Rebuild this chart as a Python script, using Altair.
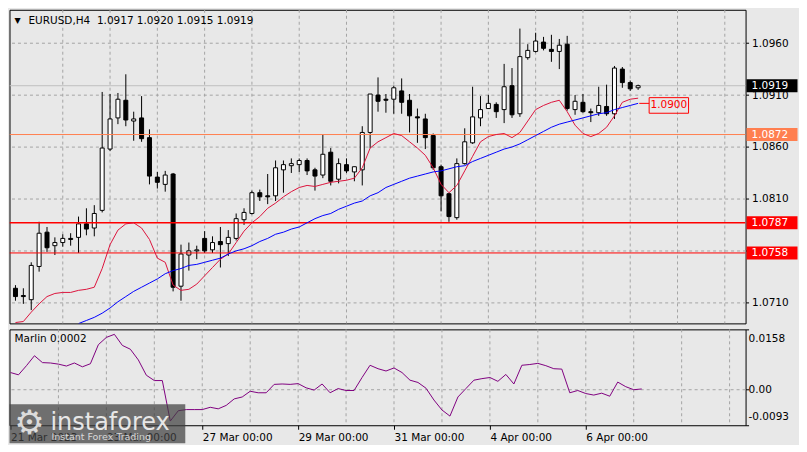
import altair as alt
import pandas as pd

# ---------------- values ----------------
bar_index = list(range(80))
opens = [1.0724, 1.0717, 1.0713, 1.0745, 1.0778, 1.0765, 1.0768, 1.0772, 1.0773, 1.0786,
         1.0782, 1.0799, 1.0858, 1.0888, 1.0905, 1.0885, 1.0888, 1.0869, 1.0831, 1.0824,
         1.0834, 1.0726, 1.0756, 1.0760, 1.0772, 1.0761, 1.0769, 1.0767, 1.0772, 1.0790,
         1.0796, 1.0816, 1.0813, 1.0813, 1.0838, 1.0842, 1.0843, 1.0847, 1.0838, 1.0833,
         1.0855, 1.0829, 1.0843, 1.0836, 1.0838, 1.0874, 1.0910, 1.0906, 1.0906, 1.0914,
         1.0905, 1.0889, 1.0887, 1.0871, 1.0841, 1.0815, 1.0792, 1.0844, 1.0864, 1.0888,
         1.0897, 1.0901, 1.0896, 1.0919, 1.0892, 1.0946, 1.0952, 1.0961, 1.0954, 1.0952,
         1.0959, 1.0896, 1.0903, 1.0894, 1.0893, 1.0899, 1.0892, 1.0935, 1.0922, 1.0917]
highs = [1.0727, 1.0724, 1.0749, 1.0788, 1.0783, 1.0773, 1.0776, 1.0777, 1.0793, 1.0801,
         1.0804, 1.0913, 1.0911, 1.0912, 1.0930, 1.0894, 1.0909, 1.0877, 1.0836, 1.0837,
         1.0835, 1.0766, 1.0768, 1.0765, 1.0779, 1.0774, 1.0783, 1.0780, 1.0796, 1.0801,
         1.0818, 1.0819, 1.0834, 1.0847, 1.0847, 1.0849, 1.0849, 1.0849, 1.0840, 1.0872,
         1.0859, 1.0849, 1.0849, 1.0841, 1.0880, 1.0911, 1.0927, 1.0911, 1.0919, 1.0926,
         1.0911, 1.0897, 1.0892, 1.0873, 1.0843, 1.0816, 1.0849, 1.0878, 1.0918, 1.0909,
         1.0910, 1.0903, 1.0940, 1.0936, 1.0974, 1.0959, 1.0970, 1.0966, 1.0968, 1.0964,
         1.0967, 1.0910, 1.0911, 1.0897, 1.0918, 1.0920, 1.0938, 1.0937, 1.0924, 1.0920]
lows = [1.0712, 1.0709, 1.0703, 1.0740, 1.0759, 1.0756, 1.0764, 1.0765, 1.0758, 1.0775,
        1.0774, 1.0797, 1.0856, 1.0882, 1.0880, 1.0866, 1.0865, 1.0824, 1.0820, 1.0817,
        1.0721, 1.0712, 1.0741, 1.0752, 1.0758, 1.0758, 1.0744, 1.0755, 1.0770, 1.0785,
        1.0795, 1.0808, 1.0805, 1.0808, 1.0816, 1.0835, 1.0836, 1.0833, 1.0818, 1.0830,
        1.0823, 1.0825, 1.0835, 1.0827, 1.0823, 1.0859, 1.0894, 1.0893, 1.0892, 1.0892,
        1.0874, 1.0864, 1.0858, 1.0838, 1.0798, 1.0788, 1.0790, 1.0843, 1.0863, 1.0880,
        1.0897, 1.0888, 1.0883, 1.0888, 1.0889, 1.0944, 1.0951, 1.0953, 1.0942, 1.0935,
        1.0895, 1.0891, 1.0893, 1.0884, 1.0890, 1.0890, 1.0887, 1.0917, 1.0914, 1.0915]
closes = [1.0716, 1.0716, 1.0746, 1.0777, 1.0763, 1.0768, 1.0772, 1.0771, 1.0786, 1.0781,
          1.0796, 1.0859, 1.0887, 1.0906, 1.0886, 1.0887, 1.0868, 1.0832, 1.0826, 1.0833,
          1.0725, 1.0757, 1.0760, 1.0761, 1.0760, 1.0768, 1.0766, 1.0773, 1.0791, 1.0797,
          1.0816, 1.0812, 1.0812, 1.0840, 1.0843, 1.0844, 1.0847, 1.0837, 1.0832, 1.0853,
          1.0827, 1.0844, 1.0837, 1.0841, 1.0874, 1.0911, 1.0904, 1.0905, 1.0917, 1.0903,
          1.0890, 1.0888, 1.0869, 1.0840, 1.0813, 1.0793, 1.0844, 1.0865, 1.0889, 1.0896,
          1.0902, 1.0894, 1.0918, 1.0891, 1.0947, 1.0953, 1.0962, 1.0955, 1.0952, 1.0958,
          1.0897, 1.0904, 1.0894, 1.0893, 1.0900, 1.0892, 1.0936, 1.0922, 1.0916, 1.0919]

fast_ma = [1.0691, 1.0692, 1.0701, 1.0709, 1.0716, 1.0719, 1.0720, 1.0720, 1.0722, 1.0723,
           1.0725, 1.0743, 1.0766, 1.0780, 1.0786, 1.0787, 1.0782, 1.0771, 1.0753, 1.0749,
           1.0727, 1.0722, 1.0723, 1.0728, 1.0736, 1.0744, 1.0752, 1.0757, 1.0768, 1.0779,
           1.0787, 1.0793, 1.0801, 1.0806, 1.0812, 1.0817, 1.0821, 1.0823, 1.0822, 1.0824,
           1.0826, 1.0827, 1.0828, 1.0830, 1.0840, 1.0859, 1.0865, 1.0869, 1.0873, 1.0871,
           1.0865, 1.0859, 1.0852, 1.0840, 1.0824, 1.0816, 1.0823, 1.0837, 1.0851, 1.0865,
           1.0870, 1.0872, 1.0873, 1.0869, 1.0874, 1.0885, 1.0896, 1.0900, 1.0903, 1.0905,
           1.0894, 1.0881, 1.0873, 1.0870, 1.0873, 1.0879, 1.0890, 1.0903, 1.0906, 1.0907]

slow_ma_first_bar = 8
slow_ma = [1.0690, 1.0693, 1.0696, 1.0700, 1.0705, 1.0711, 1.0716, 1.0721, 1.0725, 1.0729,
           1.0733, 1.0738, 1.0741, 1.0743, 1.0746, 1.0747, 1.0749, 1.0751, 1.0753, 1.0757,
           1.0760, 1.0762, 1.0765, 1.0769, 1.0772, 1.0776, 1.0778, 1.0781, 1.0783, 1.0787,
           1.0791, 1.0794, 1.0796, 1.0800, 1.0803, 1.0806, 1.0808, 1.0813, 1.0816, 1.0821,
           1.0824, 1.0827, 1.0830, 1.0832, 1.0834, 1.0836, 1.0837, 1.0839, 1.0841, 1.0842,
           1.0846, 1.0849, 1.0852, 1.0855, 1.0858, 1.0860, 1.0863, 1.0867, 1.0871, 1.0875,
           1.0879, 1.0882, 1.0884, 1.0886, 1.0888, 1.0890, 1.0892, 1.0893, 1.0896, 1.0898,
           1.0900, 1.0902]

marlin = [0.0045, 0.0039, 0.0063, 0.0089, 0.0071, 0.0070, 0.0067, 0.0062, 0.0070, 0.0060,
          0.0068, 0.0118, 0.0137, 0.0145, 0.0116, 0.0106, 0.0078, 0.0038, 0.0024, 0.0024,
          -0.0082, -0.0055, -0.0052, -0.0052, -0.0052, -0.0046, -0.0050, -0.0041, -0.0024, -0.0019,
          -0.0004, -0.0008, -0.0008, 0.0014, 0.0015, 0.0014, 0.0016, 0.0005, -0.0001, 0.0015,
          -0.0008, 0.0003, -0.0002, -0.0002, 0.0032, 0.0064, 0.0055, 0.0049, 0.0057, 0.0045,
          0.0025, 0.0019, 0.0004, -0.0027, -0.0053, -0.0069, -0.0019, 0.0003, 0.0025, 0.0029,
          0.0032, 0.0022, 0.0040, 0.0015, 0.0064, 0.0066, 0.0069, 0.0063, 0.0055, 0.0054,
          -0.0008, -0.0002, -0.0010, -0.0014, -0.0009, -0.0017, 0.0020, 0.0008, 0.0000, 0.0002]

date_ticks = [0, 12, 24, 36, 48, 60, 72]
date_labels = ["21 Mar 2023", "23 Mar 00:00", "27 Mar 00:00", "29 Mar 00:00",
               "31 Mar 00:00", "4 Apr 00:00", "6 Apr 00:00"]
price_ticks = [1.0710, 1.0760, 1.0810, 1.0860, 1.0910, 1.0960]
level_values = [1.0919, 1.0872, 1.0787, 1.0758]
annotation_value = 1.0900
marlin_ticks = [-0.0093, 0.0, 0.0158]
marlin_tick_labels = ["-0.0093", "0.00", "0.0158"]
header_text = "EURUSD,H4\u00a0\u00a01.0917 1.0920 1.0915 1.0919"
indicator_text = "Marlin 0.0002"

assert len(opens) == len(highs) == len(lows) == len(closes) == len(fast_ma) == len(marlin) == 80
assert len(slow_ma) == 80 - slow_ma_first_bar

# ---------------- layout / styles ----------------
W, H1, H2 = 737, 314, 96
FONT = "DejaVu Sans"
FS = 10.5
BG = "#e8e8e8"
GRID = "#a4a4a4"
X_DOM = [-0.125, 92.0]
Y_DOM = [1.06902, 1.09921]
M_DOM = [-0.0093, 0.0158]
BOX_HALF = 6.5 * (Y_DOM[1] - Y_DOM[0]) / H1
level_line_colors = ["#c0c0c0", "#ff7f50", "#ff0000", "#ff0000"]
level_line_widths = [1, 1, 1.5, 1]
level_box_colors = ["#000000", "#ff7f50", "#ff0000", "#ff0000"]

xscale = alt.Scale(domain=X_DOM, nice=False, zero=False)
yscale = alt.Scale(domain=Y_DOM, nice=False, zero=False)
mscale = alt.Scale(domain=M_DOM, nice=False, zero=False)

price_axis = alt.Axis(
    orient="right", values=price_ticks,
    labelExpr="abs(datum.value - 1.076) < 0.00001 ? '' : format(datum.value, '.4f')",
    grid=True, gridDash=[3, 3], gridColor=GRID, domain=False,
    ticks=True, tickSize=3, tickColor="black", labelPadding=3,
    labelFont=FONT, labelFontSize=FS, labelColor="black", title=None)

labels_js = "[" + ",".join(f"'{s}'" for s in date_labels) + "]"
ticks_js = "[" + ",".join(str(t) for t in date_ticks) + "]"
date_axis = alt.Axis(
    values=date_ticks, labelExpr=f"{labels_js}[indexof({ticks_js}, datum.value)]",
    labelAlign="left", labelBaseline="top", labelPadding=3, tickSize=4,
    tickColor="black", domain=False, grid=False, labelFont=FONT, labelFontSize=FS,
    labelColor="black", labelFlush=False, labelOverlap=False, title=None)

marlin_axis = alt.Axis(orient="right", values=marlin_ticks, labels=False, ticks=True,
                       tickSize=3, tickColor="black", domain=False, grid=False, title=None)


def XM(field):
    return alt.X(f"{field}:Q", scale=xscale, axis=None, title=None)


def YM(field):
    return alt.Y(f"{field}:Q", scale=yscale, axis=price_axis, title=None)


def XI(field):
    return alt.X(f"{field}:Q", scale=xscale, axis=date_axis, title=None)


def YI(field):
    return alt.Y(f"{field}:Q", scale=mscale, axis=marlin_axis, title=None)


one = pd.DataFrame({"k": [0]})
candles = pd.DataFrame({"i": bar_index, "open": opens, "high": highs,
                        "low": lows, "close": closes})
fast_df = pd.DataFrame({"i": bar_index, "ma": fast_ma})
slow_df = pd.DataFrame({"i": bar_index[slow_ma_first_bar:], "ma": slow_ma})
grid_df = pd.DataFrame({"g": list(range(6, 92, 6))})

# ---------------- main price panel ----------------
vgrid = alt.Chart(grid_df).mark_rule(color=GRID, strokeDash=[3, 3], strokeWidth=1).encode(x=XM("g"))

level_layers = []
box_layers = []
for v, lc, lw, bc in zip(level_values, level_line_colors, level_line_widths, level_box_colors):
    d = pd.DataFrame({"value": [v]})
    level_layers.append(
        alt.Chart(d).mark_rule(color=lc, strokeWidth=lw, clip=True).encode(y=YM("value")))
    box_layers.append(
        alt.Chart(d).transform_calculate(
            top=f"datum.value + {BOX_HALF}", bot=f"datum.value - {BOX_HALF}"
        ).mark_rect(fill=bc).encode(
            x=alt.value(W + 1), x2=alt.value(W + 52), y=YM("top"), y2="bot"))
    box_layers.append(
        alt.Chart(d).transform_calculate(label="format(datum.value, '.4f')").mark_text(
            align="left", baseline="middle", color="white", font=FONT, fontSize=FS
        ).encode(x=alt.value(W + 6), y=YM("value"), text="label:N"))

wicks = alt.Chart(candles).mark_rule(color="black", strokeWidth=1, clip=True).encode(
    x=XM("i"), y=YM("low"), y2="high")
bodies = alt.Chart(candles).mark_bar(size=4, stroke="black", strokeWidth=1, clip=True).encode(
    x=XM("i"), y=YM("open"), y2="close",
    fill=alt.condition("datum.close >= datum.open", alt.value("white"), alt.value("black")))
fast_line = alt.Chart(fast_df).mark_line(color="#dc143c", strokeWidth=1, clip=True).encode(
    x=XM("i"), y=YM("ma"))
slow_line = alt.Chart(slow_df).mark_line(color="#0000ff", strokeWidth=1, clip=True).encode(
    x=XM("i"), y=YM("ma"))

ann = pd.DataFrame({"value": [annotation_value], "end": [slow_ma[-1]]})
ann_box = alt.Chart(ann).transform_calculate(
    x0="80.4", x1="85.4", top=f"datum.value + {BOX_HALF * 1.2}", bot=f"datum.value - {BOX_HALF * 1.2}"
).mark_rect(stroke="#ff0000", strokeWidth=1, fillOpacity=0).encode(
    x=XM("x0"), x2="x1", y=YM("top"), y2="bot")
ann_link = alt.Chart(ann).transform_calculate(x0="79.15", x1="80.4").mark_rule(
    color="#ff0000", strokeWidth=1).encode(x=XM("x0"), x2="x1", y=YM("end"))
ann_text = alt.Chart(ann).transform_calculate(
    xc="82.9", label="format(datum.value, '.4f')").mark_text(
    color="#ff0000", font=FONT, fontSize=FS, align="center", baseline="middle").encode(
    x=XM("xc"), y=YM("value"), text="label:N")

tri = alt.Chart(one).mark_text(font=FONT, fontSize=8, color="black", align="left",
                               baseline="middle").encode(
    x=alt.value(5), y=alt.value(11), text=alt.value("\u25bc"))
header = alt.Chart(one).mark_text(font=FONT, fontSize=FS, color="black", align="left",
                                  baseline="middle").encode(
    x=alt.value(19), y=alt.value(11), text=alt.value(header_text))

main = alt.layer(
    vgrid, *level_layers[:1], wicks, bodies, *level_layers[1:], fast_line, slow_line,
    *box_layers, ann_link, ann_box, ann_text, tri, header
).properties(width=W, height=H1)

# ---------------- indicator panel ----------------
vgrid2 = alt.Chart(grid_df).mark_rule(color=GRID, strokeDash=[3, 3], strokeWidth=1).encode(x=XI("g"))
zero_line = alt.Chart(pd.DataFrame({"z": [0.0]})).mark_rule(
    color=GRID, strokeDash=[3, 3], strokeWidth=1).encode(y=YI("z"))
marlin_df = pd.DataFrame({"i": bar_index, "m": marlin})
marlin_line = alt.Chart(marlin_df).mark_line(color="#800080", strokeWidth=1, clip=True).encode(
    x=XI("i"), y=YI("m"))

m_label_layers = []
for val, lab in zip(marlin_ticks, marlin_tick_labels):
    if val == M_DOM[1]:
        ypos = alt.value(10)
    elif val == M_DOM[0]:
        ypos = alt.value(H2 - 8)
    else:
        ypos = YI("v")
    m_label_layers.append(
        alt.Chart(pd.DataFrame({"v": [val], "t": [lab]})).mark_text(
            font=FONT, fontSize=FS, color="black", align="left", baseline="middle"
        ).encode(x=alt.value(W + 3), y=ypos, text="t:N"))

ind_title = alt.Chart(one).mark_text(font=FONT, fontSize=FS, color="black", align="left",
                                     baseline="middle").encode(
    x=alt.value(5), y=alt.value(10), text=alt.value(indicator_text))

wm_box = alt.Chart(one).mark_rect(fill="#404040", opacity=0.72).encode(
    x=alt.value(0), x2=alt.value(176), y=alt.value(H2 - 21), y2=alt.value(H2 + 18))
wm_gear = alt.Chart(one).mark_text(font=FONT, fontSize=34, color="#f0f0f0", align="center",
                                   baseline="middle", opacity=0.85).encode(
    x=alt.value(20), y=alt.value(H2 - 1), text=alt.value("\u2699"))
wm_name = alt.Chart(one).mark_text(font=FONT, fontSize=24, color="#f4f4f4", align="left",
                                   baseline="middle", opacity=0.9).encode(
    x=alt.value(41), y=alt.value(H2 - 2), text=alt.value("instaforex"))
wm_sub = alt.Chart(one).mark_text(font=FONT, fontSize=9.5, color="#d8d8d8", align="left",
                                  baseline="middle").encode(
    x=alt.value(42), y=alt.value(H2 + 12), text=alt.value("Instant Forex Trading"))

ind = alt.layer(
    vgrid2, zero_line, marlin_line, *m_label_layers, ind_title,
    wm_box, wm_gear, wm_name, wm_sub
).properties(width=W, height=H2)

chart = alt.vconcat(main, ind, spacing=4).properties(
    padding=0.5, background=BG
).configure_view(stroke="black", strokeWidth=1, fill=BG)

chart.save("out.html", embed_options={"renderer": "svg", "actions": False})
